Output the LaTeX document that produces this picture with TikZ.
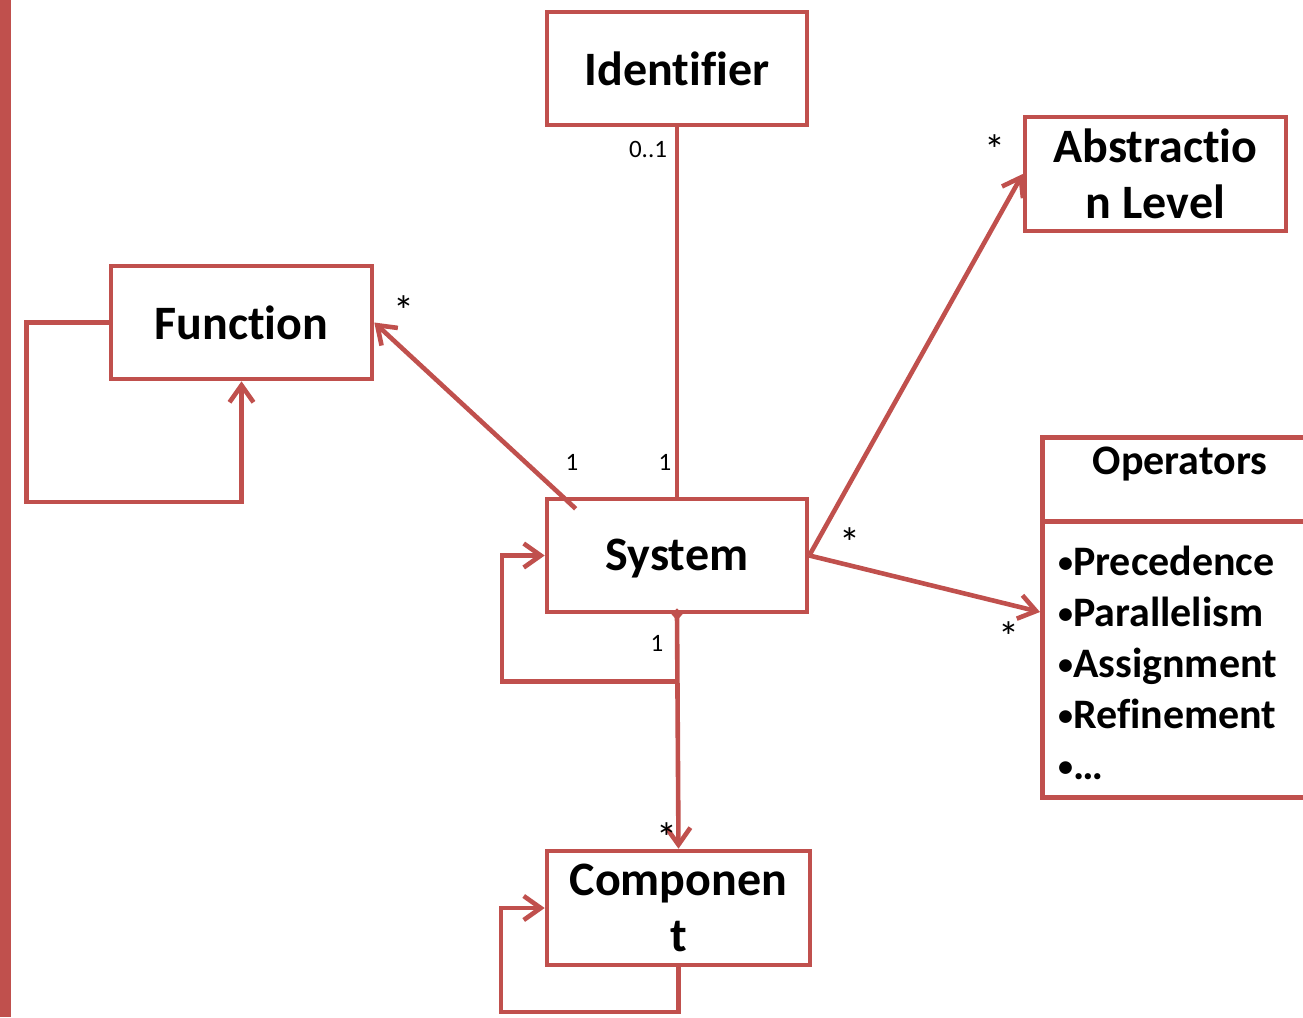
\documentclass[tikz,border=0pt]{standalone}
\usepackage{fontspec}
\setmainfont{Carlito}[Ligatures=NoCommon]
\usetikzlibrary{arrows.meta,calc}
\definecolor{umlred}{HTML}{C0504D}
% small list bullet
\newcommand{\opbullet}{{\fontsize{30}{30}\selectfont\raisebox{3pt}{•}}}
\begin{document}
\begin{tikzpicture}[x=1pt,y=-1pt,
  cls/.style={draw=umlred,line width=4.6pt,fill=white,inner sep=0pt,
    minimum width=260pt,minimum height=113pt,align=center,
    font=\bfseries\fontsize{48}{56}\selectfont},
  link/.style={draw=umlred,line width=4.6pt},
  nav/.style={link,-{Straight Barb[length=17pt,width=24pt,line width=4.6pt]}},
  mult/.style={font=\fontsize{25}{27}\selectfont,inner sep=0pt},
  many/.style={font=\fontsize{42}{42}\selectfont,inner sep=0pt}]
\useasboundingbox (0,0) rectangle (1303,1017);
\clip (0,0) rectangle (1303,1017);
% left margin bar
\fill[umlred] (0,0) rectangle (11,1017);

% classes
\node[cls] (ident) at (677,68.5) {Identifier};
\node[cls,minimum width=261pt,minimum height=114pt] (abstr) at (1155.5,174) {Abstractio\\n Level};
\node[cls,minimum width=261pt] (func) at (241.5,322.5) {Function};
\node[cls] (sys) at (677,555.5) {\raisebox{-15pt}[0pt][0pt]{System}};
\node[cls,minimum width=263pt,minimum height=114pt] (comp) at (678.5,908) {Componen\\t};

% Operators class, header and attribute compartments
\node[cls,minimum width=290pt,minimum height=84pt,anchor=north west] (ophead) at (1040,435) {};
\node[font=\bfseries\fontsize{42}{48}\selectfont,inner sep=0pt] (optitle) at (1180,464) {Operators};
\node[cls,minimum width=290pt,minimum height=276pt,anchor=north west] (opbody) at (1040,519) {};
\node[anchor=north west,align=left,inner sep=0pt,
  font=\bfseries\fontsize{42}{51}\selectfont] (oplist) at (1058,546)
  {\opbullet Precedence\\\opbullet Parallelism\\\opbullet Assignment\\\opbullet Refinement\\\opbullet …};

% associations
\coordinate (sysfn) at ($(sys.north west)+(31,12)$);
\coordinate (opin) at ($(opbody.north west)+(0,93)$);
\coordinate (sysbranch) at ($(sys.south)+(0,67)$);

\draw[link] (ident.south) -- (sys.north);
\draw[nav] (sysfn) -- (func.east);
\draw[nav] (sys.east) -- (abstr.west);
\draw[nav] (sys.east) -- (opin);
\draw[nav] (sys.south) -- (comp.north);
\fill[umlred] ($(sys.south)+(0,-6)$) -- ++(5.5,6) -- ++(-5.5,6) -- ++(-5.5,-6) -- cycle;

% self associations
\draw[nav] (sysbranch) -- ++(-175,0) |- (sys.west);
\draw[nav] (func.west) -- ++(-82,0) |- (29,502) -| (func.south);
\draw[nav] (comp.south) |- (501,1012) |- (comp.west);

% multiplicities
\node[mult] (m1) at (648,149) {0..1};
\node[mult] (m2) at (665,462) {1};
\node[mult] (m3) at (572,462) {1};
\node[mult] (m8) at (657,643) {1};
\node[many] (m4) at (404,311) {*};
\node[many] (m5) at (995,150) {*};
\node[many] (m6) at (850,543) {*};
\node[many] (m7) at (1009,637) {*};
\node[many] (m9) at (667,838) {*};
\end{tikzpicture}
\end{document}
